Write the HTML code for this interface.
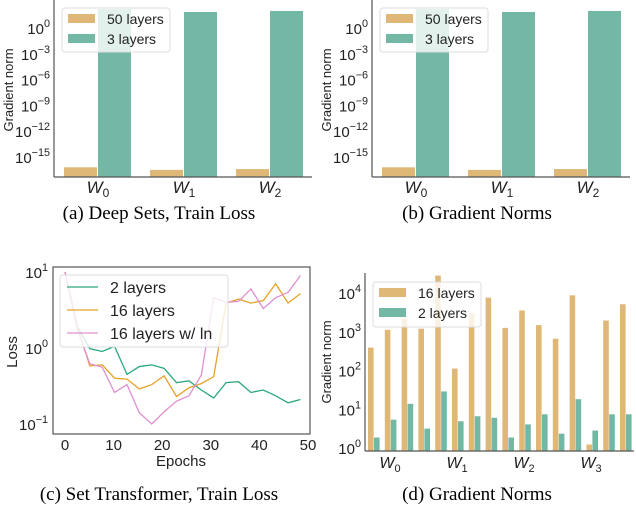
<!DOCTYPE html>
<html><head><meta charset="utf-8"><style>
body{margin:0;background:#fff;}
svg{display:block;font-family:"Liberation Sans",sans-serif;}
.cap{font-family:"Liberation Serif",serif;font-size:19px;fill:#000;}
.tk{font-size:15px;fill:#222;}
</style></head><body>
<svg id="c" width="636" height="510" viewBox="0 0 636 510" xmlns="http://www.w3.org/2000/svg"></svg>
<script>
// Panel a/b data (log10 gradient norm)
const abCats = ["0","1","2"];
const ab50 = [-16.2, -16.5, -16.4];
const ab3 = [2.2, 1.86, 1.98];
const abTicks = [0, -3, -6, -9, -12, -15];
// Panel c data
const cEpochs = [0,2.55,5.1,7.65,10.2,12.75,15.3,17.85,20.4,22.95,25.5,28.05,30.6,33.15,35.7,38.25,40.8,43.35,45.9,48.45];
const c2 = [10,1.9,0.98,0.9,1.05,0.45,0.57,0.6,0.54,0.35,0.37,0.28,0.22,0.35,0.36,0.26,0.28,0.235,0.19,0.21];
const c16 = [10,1.9,0.58,0.6,0.4,0.39,0.29,0.33,0.43,0.23,0.3,0.34,0.42,3.9,4.4,3.9,4.2,7,3.9,5.2];
const c16ln = [10,1.75,0.62,0.56,0.26,0.33,0.14,0.1,0.145,0.2,0.235,0.44,4.6,4.0,4.1,6,3.3,4.6,5.4,9];
const cXTicks = [0,10,20,30,40,50];
const cYTicks = [1,0,-1];
// Panel d data (log10)
const d16 = [2.59,3.05,3.34,3.08,4.45,2.05,3.47,3.88,3.1,3.55,3.17,2.82,3.94,0.09,3.29,3.71];
const d2 = [0.27,0.73,1.14,0.5,1.46,0.69,0.82,0.78,0.27,0.61,0.87,0.37,1.26,0.45,0.87,0.87];
const dCats = ["0","1","2","3"];
const dYTicks = [0,1,2,3,4];

const S = document.getElementById('c');
const NS = "http://www.w3.org/2000/svg";
function mk(tag, attrs, parent){const e=document.createElementNS(NS,tag);for(const k in attrs)e.setAttribute(k,attrs[k]);(parent||S).appendChild(e);return e;}
function pow(x,y,v,anchor,size){
  const t=mk('text',{x:x,y:y,'text-anchor':anchor||'end',class:'tk','font-size':size||15});
  
  
  const a=document.createElementNS(NS,'tspan');a.textContent='10';t.appendChild(a);
  const b=document.createElementNS(NS,'tspan');b.setAttribute('dy','-7');b.setAttribute('font-size',(size||15)*0.72);b.textContent=(v<0?'\u2212'+(-v):v);t.appendChild(b);
  return t;
}
const OR="#dfb878", GR="#72b8a4";

function panelAB(dx, caption, nm){
  const g=mk('g',{transform:'translate('+dx+',0)'});
  
  
  const y=v=>28-v*8.6;
  const x0=[98,184,270];
  abCats.forEach((c,i)=>{
    const r1=mk('rect',{x:x0[i]-34,y:y(ab50[i]),width:33,height:177-y(ab50[i]),fill:OR},g);
    
    
    const r2=mk('rect',{x:x0[i],y:y(ab3[i]),width:33,height:177-y(ab3[i]),fill:GR},g);
    
    
    const t=mk('text',{x:x0[i],y:193,'text-anchor':'middle','font-size':17,fill:'#222','font-style':'italic'},g);
    
    
    t.innerHTML='W<tspan font-size="12" dy="4" font-style="normal">'+c+'</tspan>';
  });
  abTicks.forEach(v=>{g.appendChild(pow(50,y(v)+6,v));});
  mk('line',{x1:54,y1:0,x2:54,y2:177,stroke:'#555','stroke-width':1.2},g);
  mk('line',{x1:54,y1:177,x2:312,y2:177,stroke:'#555','stroke-width':1.2},g);
  const yl=mk('text',{x:0,y:0,transform:'translate(13,90) rotate(-90)','text-anchor':'middle','font-size':13,fill:'#222'},g);
  yl.textContent='Gradient norm';
  const lg=mk('g',{},g);
  mk('rect',{x:62,y:8,width:108,height:44,rx:3,fill:'#fff','fill-opacity':0.8,stroke:'#ddd'},lg);
  mk('rect',{x:68,y:14,width:27,height:9,fill:OR},lg);
  mk('rect',{x:68,y:34,width:27,height:9,fill:GR},lg);
  const l1=mk('text',{x:107,y:24,'font-size':14,fill:'#222'},lg);l1.textContent='50 layers';
  const l2=mk('text',{x:107,y:44,'font-size':14,fill:'#222'},lg);l2.textContent='3 layers';
  const cp=mk('text',{x:159,y:219,'text-anchor':'middle',class:'cap'},g);
  cp.textContent=caption;
}
panelAB(0,'(a)  Deep Sets, Train Loss','panel-a');
panelAB(318,'(b)  Gradient Norms','panel-b');

// Panel c
(function(){
  const g=mk('g',{});
  const x=e=>65+e*4.86;
  const y=v=>348-Math.log10(v)*76;
  mk('rect',{x:53,y:267,width:257,height:167,fill:'none',stroke:'#555','stroke-width':1.2},g);
  cXTicks.forEach(t=>{const e=mk('text',{x:x(t),y:450,'text-anchor':'middle',class:'tk'},g);e.textContent=t;
    });
  cYTicks.forEach(v=>{g.appendChild(pow(48,348-v*76+6,v));});
  const xt=mk('text',{x:181,y:466,'text-anchor':'middle','font-size':15,fill:'#222'},g);xt.textContent='Epochs';
  
  const yt=mk('text',{transform:'translate(17,352) rotate(-90)','text-anchor':'middle','font-size':15,fill:'#222'},g);yt.textContent='Loss';
  
  const series=[[c2,'#2aa87c','line-2-layers'],[c16,'#e6a326','line-16-layers'],[c16ln,'#e08fd0','line-16-layers-ln']];
  series.forEach(s=>{
    const p=mk('polyline',{points:cEpochs.map((e,i)=>x(e)+','+y(s[0][i])).join(' '),fill:'none',stroke:s[1],'stroke-width':1.3},g);
    
  });
  const lg=mk('g',{},g);
  mk('rect',{x:60,y:275,width:168,height:72,rx:3,fill:'#fff','fill-opacity':0.8,stroke:'#ddd'},lg);
  const names=['2 layers','16 layers','16 layers w/ ln'];
  series.forEach((s,i)=>{const yy=287+i*23;
    mk('line',{x1:67,y1:yy,x2:98,y2:yy,stroke:s[1],'stroke-width':1.3},lg);
    const t=mk('text',{x:110,y:yy+6,'font-size':16,fill:'#222'},lg);t.textContent=names[i];});
  const cp=mk('text',{x:159,y:500,'text-anchor':'middle',class:'cap'},g);
  cp.textContent='(c)  Set Transformer, Train Loss';
})();

// Panel d
(function(){
  const g=mk('g',{});
  const y=v=>448-v*38.75;
  d16.forEach((v,i)=>{
    const bx=368+i*16.8;
    const r=mk('rect',{x:bx,y:y(v),width:5.6,height:451-y(v),fill:OR},g);
    
    const r2=mk('rect',{x:bx+6,y:y(d2[i]),width:5.6,height:451-y(d2[i]),fill:GR},g);
    
  });
  dCats.forEach((c,i)=>{
    const t=mk('text',{x:390+i*67,y:468,'text-anchor':'middle','font-size':16,fill:'#222','font-style':'italic'},g);
    
    t.innerHTML='W<tspan font-size="11" dy="4" font-style="normal">'+c+'</tspan>';
  });
  dYTicks.forEach(v=>{g.appendChild(pow(361,y(v)+6,v));});
  mk('line',{x1:365,y1:273,x2:365,y2:451,stroke:'#555','stroke-width':1.2},g);
  mk('line',{x1:365,y1:451,x2:634,y2:451,stroke:'#555','stroke-width':1.2},g);
  const yt=mk('text',{transform:'translate(331,362) rotate(-90)','text-anchor':'middle','font-size':13,fill:'#222'},g);yt.textContent='Gradient norm';
  
  const lg=mk('g',{},g);
  mk('rect',{x:373,y:282,width:108,height:45,rx:3,fill:'#fff','fill-opacity':0.8,stroke:'#ddd'},lg);
  mk('rect',{x:379,y:288,width:27,height:9,fill:OR},lg);
  mk('rect',{x:379,y:308,width:27,height:9,fill:GR},lg);
  const l1=mk('text',{x:418,y:298,'font-size':14,fill:'#222'},lg);l1.textContent='16 layers';
  const l2=mk('text',{x:418,y:318,'font-size':14,fill:'#222'},lg);l2.textContent='2 layers';
  const cp=mk('text',{x:477,y:500,'text-anchor':'middle',class:'cap'},g);
  cp.textContent='(d)  Gradient Norms';
})();
</script>
</body></html>
